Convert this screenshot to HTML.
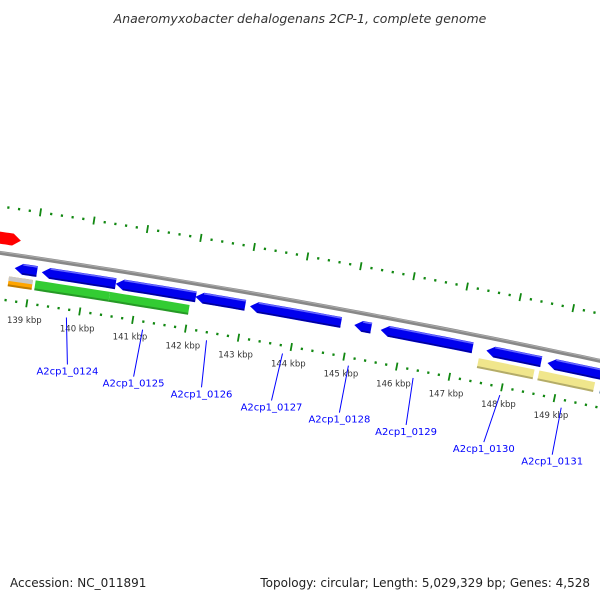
<!DOCTYPE html>
<html><head><meta charset="utf-8">
<style>
body{margin:0;background:#fff;}
svg{display:block;font-family:"DejaVu Sans","Liberation Sans",sans-serif;}
</style></head>
<body>
<svg id="c" width="600" height="600" viewBox="0 0 600 600">
<text x="300" y="23" text-anchor="middle" font-size="12.5" font-style="italic" fill="#333">Anaeromyxobacter dehalogenans 2CP-1, complete genome</text>
<g id="marks"></g>
<text x="10" y="587" font-size="12" fill="#222">Accession: NC_011891</text>
<text x="590" y="587" text-anchor="end" font-size="12" fill="#222">Topology: circular; Length: 5,029,329 bp; Genes: 4,528</text>
</svg>
<script>
// data
const tickKbp = [139,140,141,142,143,144,145,146,147,148,149];
const tickLabels = ["139 kbp","140 kbp","141 kbp","142 kbp","143 kbp","144 kbp","145 kbp","146 kbp","147 kbp","148 kbp","149 kbp"];
const geneStart = [138.3, 138.68, 139.19, 140.58, 142.08, 143.11, 145.08, 145.58, 147.58, 148.74];
const geneEnd   = [138.72, 139.1, 140.58, 142.09, 143.02, 144.83, 145.4, 147.32, 148.62, 149.77];
const geneStrand= [1, -1, -1, -1, -1, -1, -1, -1, -1, -1];
const featStart = [138.6, 139.1, 140.5, 147.47, 148.62, 149.8];
const featEnd   = [139.05, 140.5, 142.0, 148.53, 149.68, 150.4];
const featColor = ["orange", "#33cc33", "#33cc33", "#f0e68c", "#f0e68c", "#4682b4"];
const labelNames = ["A2cp1_0124","A2cp1_0125","A2cp1_0126","A2cp1_0127","A2cp1_0128","A2cp1_0129","A2cp1_0130","A2cp1_0131"];
const labelKbp = [139.77, 141.21, 142.42, 143.86, 145.11, 146.34, 147.99, 149.16];
const labelDx = [1,-9,-5,-11,-9,-7,-16,-9];

const CX=-1380, CY=9646, A0=0.15513, K=0.005675;
const R_BACK=9494, R_OUT=9540, R_IN=9448, R_LAB=9431, R_FWD=9509, R_REV=9481, R_FEAT=9467;
function ang(p){return A0+(p-140)*K;}
function pt(r,p){const a=ang(p);return [CX+r*Math.sin(a), CY-r*Math.cos(a)];}
const NS="http://www.w3.org/2000/svg";
const g=document.getElementById('marks');
function mk(tag,attrs){const e=document.createElementNS(NS,tag);for(const k in attrs)e.setAttribute(k,attrs[k]);g.appendChild(e);return e;}
function arcPts(r,p0,p1,n){const a=[];for(let i=0;i<=n;i++)a.push(pt(r,p0+(p1-p0)*i/n));return a;}
function poly(ptsArr){return ptsArr.map(q=>q[0].toFixed(1)+','+q[1].toFixed(1)).join(' ');}

// backbone
{const a=arcPts(R_BACK,137.5,151,40);
const e=mk('polyline',{points:poly(a),fill:'none',stroke:'#888','stroke-width':4});


const e2=mk('polyline',{points:poly(arcPts(R_BACK+1,137.5,151,40)),fill:'none',stroke:'#aaa','stroke-width':1});

}

// tick rings
const tickStart=tickKbp[0]-1, tickEnd=tickKbp[tickKbp.length-1]+2;
for(let i=Math.round(tickStart*5);i<=Math.round(tickEnd*5);i++){
  const p=i/5, major=(i%5===0);
  [R_OUT,R_IN].forEach((r,ri)=>{
    const h=major?4:1.2;
    const a=pt(r-h,p), b=pt(r+h,p);
    const e=mk('line',{x1:a[0],y1:a[1],x2:b[0],y2:b[1],stroke:'#118811','stroke-width':major?1.8:2.2});
    
    
  });
}
tickKbp.forEach((p,i)=>{
  const q=pt(R_LAB,p);
  const t=mk('text',{x:q[0].toFixed(1),y:(q[1]+3).toFixed(1),'text-anchor':'middle','font-size':8.5,fill:'#333'});
  t.textContent=tickLabels[i];
  
  
});

// features (no arrows)
featStart.forEach((s,i)=>{
  const e=featEnd[i], hh=5;
  const top=arcPts(R_FEAT+hh,s,e,6), bot=arcPts(R_FEAT-hh,e,s,6);
  const pg=mk('polygon',{points:poly(top.concat(bot)),fill:featColor[i]});
  
  
  const sh=mk('polyline',{points:poly(arcPts(R_FEAT-hh+1,s,e,6)),fill:'none',stroke:'rgba(0,0,0,0.25)','stroke-width':2});
  
  
  if(i===0){
    const t2=arcPts(R_FEAT+hh,s,e,4), m=arcPts(R_FEAT+0.5,e,s,4);
    const gp=mk('polygon',{points:poly(t2.concat(m)),fill:'#c8c8c8'});
    
    
  }
});

// genes (arrows)
geneStart.forEach((s,i)=>{
  const e=geneEnd[i], st=geneStrand[i];
  const r=st>0?R_FWD:R_REV, hh=st>0?6:5.5, head=Math.min(0.15,(e-s)*0.5);
  let pts;
  if(st>0){
    pts=arcPts(r+hh,s,e-head,6).concat([pt(r,e)]).concat(arcPts(r-hh,e-head,s,6));
  }else{
    pts=[pt(r,s)].concat(arcPts(r+hh,s+head,e,6)).concat(arcPts(r-hh,e,s+head,6));
  }
  const pg=mk('polygon',{points:poly(pts),fill:st>0?'#ff0000':'#0000ee'});
  
  
  if(st<0){
    const hl=mk('polyline',{points:poly(arcPts(r+hh-1,s+head,e,6)),fill:'none',stroke:'#6666ff','stroke-width':1.5});
    
    
    const sd=mk('polyline',{points:poly(arcPts(r-hh+1,s+head,e,6)),fill:'none',stroke:'#000099','stroke-width':1.5});
    
    
  }
});

// gene labels
labelNames.forEach((n,i)=>{
  const q=pt(R_IN-8,labelKbp[i]);
  const bx=q[0]+labelDx[i], by=q[1]+47;
  const l=mk('line',{x1:q[0].toFixed(1),y1:q[1].toFixed(1),x2:bx.toFixed(1),y2:by.toFixed(1),stroke:'#0000ff','stroke-width':1});
  
  
  const t=mk('text',{x:bx.toFixed(1),y:(by+10).toFixed(1),'text-anchor':'middle','font-size':10,fill:'#0000ff'});
  t.textContent=n;
  
  
});
</script>
</body></html>
